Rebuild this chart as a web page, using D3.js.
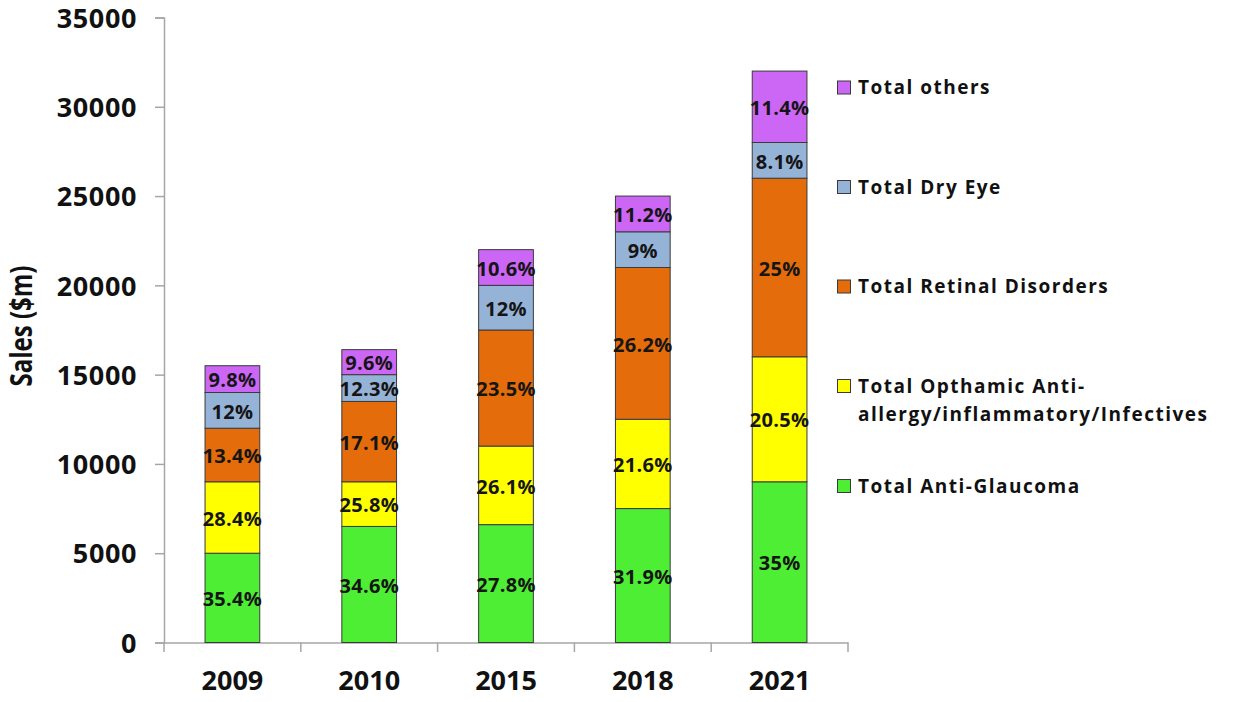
<!DOCTYPE html>
<html><head><meta charset="utf-8">
<script src="https://cdn.jsdelivr.net/npm/d3@7"></script>
<style>body{margin:0;background:#fff;} text{font-family:"Open Sans",sans-serif;font-weight:700;}</style>
</head><body>
<svg id="c" width="1239" height="702"></svg>
<script>
const years = ["2009","2010","2015","2018","2021"];
const seriesNames = ["Total Anti-Glaucoma","Total Opthamic Anti-allergy/inflammatory/Infectives","Total Retinal Disorders","Total Dry Eye","Total others"];
const glaucoma = [5000,6500,6600,7500,9000];
const antiAllergy = [4000,2500,4400,5000,7000];
const retinal = [3000,4500,6500,8500,10000];
const dryEye = [2000,1500,2500,2000,2000];
const others = [1500,1400,2000,2000,4000];
const pctGlaucoma = ["35.4%","34.6%","27.8%","31.9%","35%"];
const pctAntiAllergy = ["28.4%","25.8%","26.1%","21.6%","20.5%"];
const pctRetinal = ["13.4%","17.1%","23.5%","26.2%","25%"];
const pctDryEye = ["12%","12.3%","12%","9%","8.1%"];
const pctOthers = ["9.8%","9.6%","10.6%","11.2%","11.4%"];
const yTicks = [0,5000,10000,15000,20000,25000,30000,35000];
const colors = ["#4DEE33","#FFFF00","#E46C0A","#95B3D7","#CC66F5"];

const values = [glaucoma, antiAllergy, retinal, dryEye, others];
const pcts = [pctGlaucoma, pctAntiAllergy, pctRetinal, pctDryEye, pctOthers];
const rows = years.map((y,i)=>{const r={year:y}; values.forEach((v,k)=>r["s"+k]=v[i]); return r;});
const stack = d3.stack().keys(values.map((_,k)=>"s"+k))(rows);

const svg = d3.select("#c");
const x = d3.scaleBand().domain(years).range([164,848]);
const y = d3.scaleLinear().domain([0,35000]).range([642.5,17.5]);
const bw = x.bandwidth()*0.4;

// y axis
const ya = svg.append("g").attr("transform","translate(164,0)")
  .call(d3.axisLeft(y).tickValues(yTicks).tickSize(9).tickPadding(18).tickFormat(d3.format("d")));
ya.select(".domain").attr("stroke","#a6a6a6").attr("stroke-width",1.5);
ya.selectAll(".tick line").attr("stroke","#a6a6a6").attr("stroke-width",1.5);
ya.selectAll("text").attr("font-size",27).attr("fill","#111").attr("dy","0.36em").attr("letter-spacing","0.6px")
  .style("font-family","'Open Sans',sans-serif").style("font-weight",700);

// x axis
const xa = svg.append("g").attr("transform","translate(0,642.5)")
  .call(d3.axisBottom(x).tickSize(0).tickPadding(28).tickSizeOuter(0));
xa.select(".domain").attr("stroke","#a6a6a6").attr("stroke-width",1.5);
xa.selectAll("text").attr("font-size",27).attr("fill","#111").style("font-family","'Open Sans',sans-serif").style("font-weight",700);
// category separator ticks
const bounds = years.map(d=>x(d)).concat([x(years[years.length-1])+x.step()]);
svg.append("g").selectAll("line").data(bounds).join("line")
  .attr("x1",d=>d).attr("x2",d=>d).attr("y1",642.5).attr("y2",652)
  .attr("stroke","#a6a6a6").attr("stroke-width",1.5);

// bars
stack.forEach((layer,k)=>{
  const g = svg.append("g");
  g.selectAll("rect").data(layer).join("rect")
    .attr("x",d=>x(d.data.year)+x.bandwidth()/2-bw/2)
    .attr("width",bw)
    .attr("y",d=>y(d[1]))
    .attr("height",d=>y(d[0])-y(d[1]))
    .attr("fill",colors[k]).attr("stroke","#3a3a3a").attr("stroke-width",1);
  g.selectAll("text").data(layer).join("text")
    .attr("x",d=>x(d.data.year)+x.bandwidth()/2)
    .attr("y",d=>(y(d[0])+y(d[1]))/2+1)
    .attr("dy","0.36em").attr("text-anchor","middle")
    .attr("font-size",20).attr("letter-spacing","0.3px").attr("fill","#151515")
    .text((d,i)=>pcts[k][i]);
});

// y title
svg.append("text").attr("transform","translate(32,326) rotate(-90) scale(0.8,1)")
  .attr("text-anchor","middle").attr("font-size",30).attr("fill","#111").text("Sales ($m)");

// legend
const legend = [
  {k:4, lines:["Total others"], cy:87.5},
  {k:3, lines:["Total Dry Eye"], cy:187},
  {k:2, lines:["Total Retinal Disorders"], cy:286.5},
  {k:1, lines:["Total Opthamic Anti-","allergy/inflammatory/Infectives"], cy:386},
  {k:0, lines:["Total Anti-Glaucoma"], cy:486}
];
const lg = svg.append("g");
legend.forEach(it=>{
  lg.append("rect").attr("x",837.5).attr("y",it.cy-6.5).attr("width",13).attr("height",13)
    .attr("fill",colors[it.k]).attr("stroke","#3a3a3a").attr("stroke-width",1);
  it.lines.forEach((t,j)=>{
    lg.append("text").attr("x",858).attr("y",it.cy+j*28.5).attr("dy","0.36em")
      .attr("font-size",19).attr("letter-spacing","1.5px").attr("fill","#111").text(t);
  });
});
</script>
</body></html>
